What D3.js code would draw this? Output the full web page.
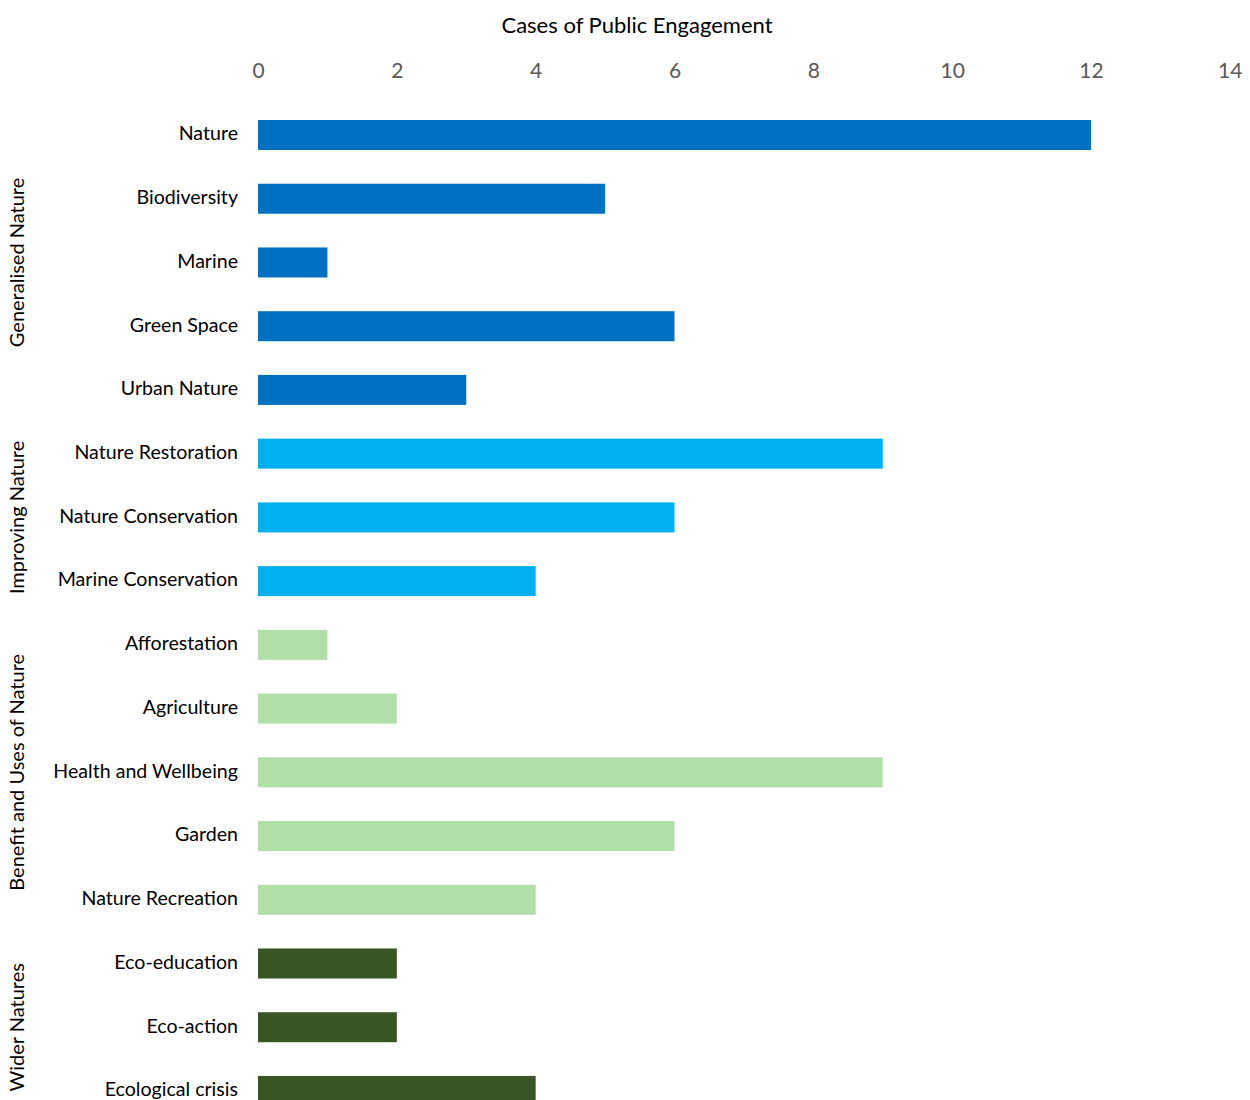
<!DOCTYPE html>
<html>
<head>
<meta charset="utf-8">
<script src="https://cdn.jsdelivr.net/npm/d3@7"></script>
<style>
  body { margin: 0; background: #fff; }
  text { font-family: Lato, "Open Sans", sans-serif; }
</style>
</head>
<body>
<script>
// categories, top to bottom
const categories = ["Nature", "Biodiversity", "Marine", "Green Space", "Urban Nature",
  "Nature Restoration", "Nature Conservation", "Marine Conservation",
  "Afforestation", "Agriculture", "Health and Wellbeing", "Garden", "Nature Recreation",
  "Eco-education", "Eco-action", "Ecological crisis"];
const values = [12, 5, 1, 6, 3, 9, 6, 4, 1, 2, 9, 6, 4, 2, 2, 4];
const groupOf = [0, 0, 0, 0, 0, 1, 1, 1, 2, 2, 2, 2, 2, 3, 3, 3];
const groups = ["Generalised Nature", "Improving Nature", "Benefit and Uses of Nature", "Wider Natures"];
const groupColors = ["#0070C0", "#00B0F0", "#B0E0A8", "#375623"];
const xTicks = [0, 2, 4, 6, 8, 10, 12, 14];

const W = 1250, H = 1100;
const svg = d3.select("body").append("svg")
    .attr("width", W)
    .attr("height", H);

const x = d3.scaleLinear().domain([0, 14]).range([258, 1229.8]);

var pad = 0.529;
var step = 63.73;
var top0 = 120 - pad * step;
const y = d3.scaleBand()
    .domain(categories)
    .range([top0, top0 + step * (categories.length + pad)])
    .paddingInner(pad)
    .paddingOuter(pad);

// title
svg.append("text")
    .attr("x", 637)
    .attr("y", 33)
    .attr("text-anchor", "middle")
    .style("font-size", "22px")
    .style("fill", "#000")
    .text("Cases of Public Engagement");

// top axis, labels only
const ax = svg.append("g")
    .attr("transform", "translate(0,78)")
    .call(d3.axisTop(x).tickValues(xTicks).tickSize(0).tickPadding(0));
ax.select(".domain").remove();
ax.selectAll("text")
    .style("font-size", "21px")
    .style("font-family", "Lato, 'Open Sans', sans-serif")
    .attr("fill", "#595959");

// bars
svg.selectAll(".bar")
    .data(categories)
    .enter().append("rect")
    .attr("class", "bar")
    .attr("x", x(0))
    .attr("y", function(d) { return y(d); })
    .attr("width", function(d, i) { return x(values[i]) - x(0); })
    .attr("height", y.bandwidth())
    .attr("fill", function(d, i) { return groupColors[groupOf[i]]; });

// category labels
svg.selectAll(".cat")
    .data(categories)
    .enter().append("text")
    .attr("class", "cat")
    .attr("x", 238)
    .attr("y", function(d) { return y(d) + y.bandwidth() / 2 - 1.5; })
    .attr("dy", "0.35em")
    .attr("text-anchor", "end")
    .style("font-size", "19.6px")
    .style("fill", "#000")
    .text(function(d) { return d; });

// group labels, rotated, centred on their bars
groups.forEach(function(g, gi) {
  var members = categories.filter(function(d, i) { return groupOf[i] === gi; });
  var c0 = y(members[0]) + y.bandwidth() / 2;
  var c1 = y(members[members.length - 1]) + y.bandwidth() / 2;
  var cy = (c0 + c1) / 2;
  svg.append("text")
      .attr("transform", "translate(17," + cy + ") rotate(-90)")
      .attr("dy", "0.35em")
      .attr("text-anchor", "middle")
      .style("font-size", "20px")
      .style("fill", "#000")
      .text(g);
});
</script>
</body>
</html>
